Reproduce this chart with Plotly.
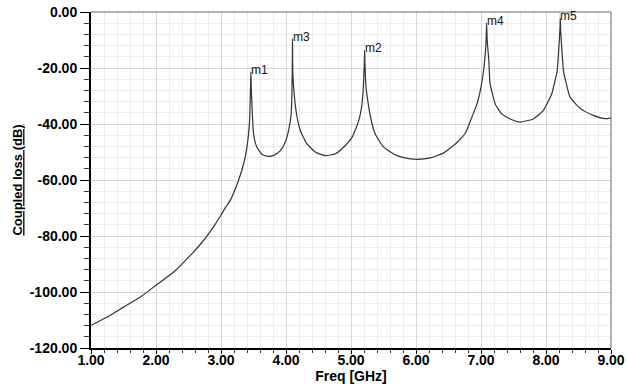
import plotly.graph_objects as go

# Curve
freq_ghz = [1.0, 1.25, 1.5, 1.76, 2.0, 2.3, 2.48, 2.6, 2.7, 2.8, 2.9, 3.0, 3.07, 3.146,
            3.27, 3.35, 3.40, 3.44, 3.45, 3.455, 3.46, 3.465, 3.48, 3.50, 3.55, 3.63,
            3.71, 3.81, 3.91, 3.99, 4.04, 4.08, 4.095, 4.10, 4.105, 4.13, 4.17, 4.22,
            4.32, 4.45, 4.60, 4.76, 4.89, 5.02, 5.12, 5.17, 5.19, 5.205, 5.21, 5.215,
            5.23, 5.25, 5.30, 5.37, 5.50, 5.66, 5.81, 6.02, 6.22, 6.42, 6.63, 6.76,
            6.86, 6.94, 7.00, 7.04, 7.07, 7.08, 7.086, 7.095, 7.12, 7.14, 7.22, 7.32,
            7.45, 7.60, 7.81, 7.96, 8.09, 8.14, 8.17, 8.19, 8.215, 8.22, 8.225, 8.25,
            8.27, 8.30, 8.37, 8.53, 8.73, 8.91, 9.0]
coupled_db = [-111.9, -108.9, -105.4, -101.8, -97.6, -92.3, -88.1, -85.1, -82.5, -79.5,
              -76.2, -72.5, -69.8, -67.1,
              -60.1, -54.1, -48.2, -38.7, -30.4, -26.0, -21.4, -27.0, -35.1, -43.4,
              -48.2, -50.8,
              -51.5, -51.2, -49.6, -46.4, -42.3, -36.3, -24.0, -9.5, -22.0, -30.4,
              -37.5, -42.3,
              -47.0, -50.0, -51.3, -50.6, -48.2, -44.6, -38.7, -32.7, -26.8, -18.0,
              -13.7, -18.5,
              -26.5, -30.4, -37.5, -43.4, -48.2, -50.8, -52.0, -52.6, -52.1, -50.4,
              -46.6, -43.2,
              -37.5, -32.7, -26.8, -20.8, -13.7, -9.0, -4.0, -10.0, -17.3, -25.6,
              -32.9, -36.4,
              -38.2, -39.3, -38.1, -35.1, -29.1, -24.4, -21.4, -15.5, -6.0, -2.3,
              -6.5, -15.5,
              -21.4, -24.4, -30.4, -34.5, -36.9, -38.1, -37.8]

marker_names = ["m1", "m3", "m2", "m4", "m5"]
marker_freq = [3.46, 4.10, 5.21, 7.086, 8.22]
marker_db = [-21.4, -9.5, -13.7, -4.0, -2.3]

x_ticks = [1, 2, 3, 4, 5, 6, 7, 8, 9]
y_ticks = [0, -20, -40, -60, -80, -100, -120]

FONT = "Liberation Sans, Arial, sans-serif"

fig = go.Figure()
fig.add_trace(go.Scatter(
    x=freq_ghz, y=coupled_db, mode="lines",
    line=dict(color="#333333", width=1.2, shape="spline", smoothing=0.5),
    showlegend=False, hoverinfo="skip",
))

for name, fx, fy in zip(marker_names, marker_freq, marker_db):
    fig.add_annotation(
        x=fx, y=fy, text=name, showarrow=False,
        xanchor="left", yanchor="middle", xshift=-2, yshift=2,
        font=dict(family=FONT, size=12, color="#111111"),
    )

fig.update_xaxes(
    range=[1, 9], tickvals=x_ticks, ticktext=[f"{v:.2f}" for v in x_ticks],
    showline=True, linecolor="black", linewidth=2, mirror=False,
    ticks="outside", ticklen=4, tickcolor="black", tickwidth=1,
    ticklabelstandoff=-6,
    showgrid=True, gridcolor="#d6d6d6", gridwidth=1,
    minor=dict(dtick=0.2, showgrid=True, gridcolor="#ececec", ticks="outside",
               ticklen=3, tickcolor="#333333"),
    tickfont=dict(family=FONT, size=14, color="black", weight="bold"),
    title=dict(text="Freq [GHz]", standoff=2,
               font=dict(family=FONT, size=14, color="black", weight="bold")),
    zeroline=False, automargin=False,
)
fig.update_yaxes(
    range=[-120, 0], tickvals=y_ticks, ticktext=[f"{v:.2f}" for v in y_ticks],
    showline=True, linecolor="black", linewidth=2, mirror=False,
    ticks="outside", ticklen=9, tickcolor="black", tickwidth=1,
    showgrid=True, gridcolor="#d6d6d6", gridwidth=1,
    minor=dict(dtick=4, showgrid=True, gridcolor="#ececec", ticks="outside",
               ticklen=5, tickcolor="#333333"),
    tickfont=dict(family=FONT, size=14, color="black", weight="bold"),
    title=dict(text="<u>Coupled loss (dB)</u>", standoff=4,
               font=dict(family=FONT, size=13, color="black", weight="bold")),
    zeroline=False, automargin=False,
)

fig.update_layout(
    width=626, height=384,
    margin=dict(l=91, r=15, t=12, b=36),
    paper_bgcolor="white", plot_bgcolor="white",
    shapes=[
        dict(type="line", xref="paper", yref="paper", x0=0, x1=1, y0=1, y1=1,
             line=dict(color="#666666", width=1)),
        dict(type="line", xref="paper", yref="paper", x0=1, x1=1, y0=0, y1=1,
             line=dict(color="#666666", width=1)),
    ],
)

fig.write_html(
    "out.html",
    config={"displayModeBar": False},
    post_script="document.body.style.margin='0';document.body.style.overflow='hidden';",
)
